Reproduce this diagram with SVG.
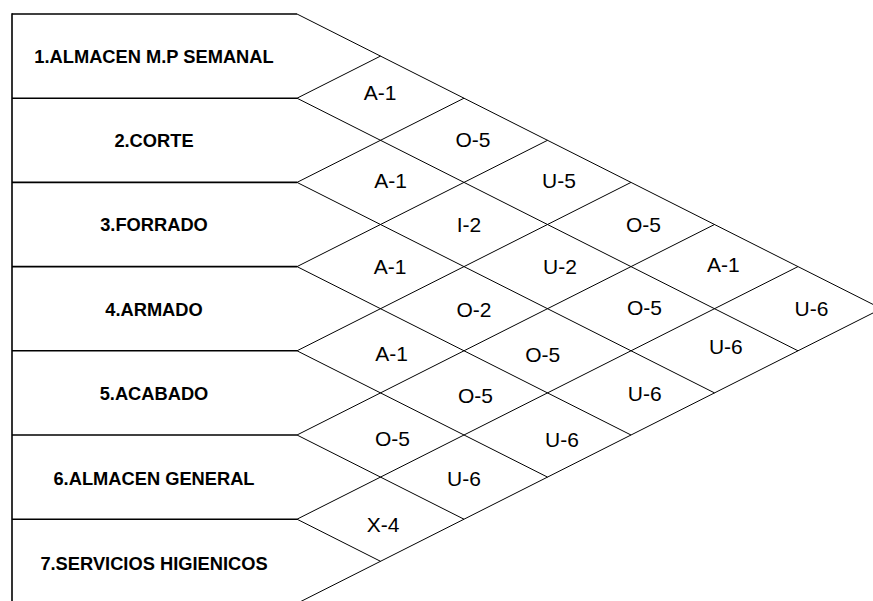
<svg xmlns="http://www.w3.org/2000/svg" width="873" height="601" viewBox="0 0 873 601">
  <style>
    .bg { fill: #ffffff; }
    .rule { stroke: #000000; stroke-width: 1.6; fill: none; }
    .diag { stroke: #000000; stroke-width: 1; fill: none; }
    .dept { font-family: "Liberation Sans", Arial, sans-serif; font-weight: bold; font-size: 18.3px; fill: #000000; text-anchor: middle; }
    .rel { font-family: "Liberation Sans", Arial, sans-serif; font-size: 21px; fill: #000000; text-anchor: middle; }
  </style>
  <rect class="bg" x="0" y="0" width="873" height="601"/>

  <!-- department column: left edge and row separators -->
  <g id="dept-frame">
    <line class="rule" x1="12" y1="13.2" x2="12" y2="601"/>
    <line class="rule" x1="12" y1="14" x2="297" y2="14"/>
    <line class="rule" x1="12" y1="98.2" x2="297" y2="98.2"/>
    <line class="rule" x1="12" y1="182.4" x2="297" y2="182.4"/>
    <line class="rule" x1="12" y1="266.6" x2="297" y2="266.6"/>
    <line class="rule" x1="12" y1="350.8" x2="297" y2="350.8"/>
    <line class="rule" x1="12" y1="435" x2="297" y2="435"/>
    <line class="rule" x1="12" y1="519.2" x2="297" y2="519.2"/>
  </g>

  <!-- departments -->
  <g id="dept-1"><text class="dept" x="154" y="63.2">1.ALMACEN M.P SEMANAL</text></g>
  <g id="dept-2"><text class="dept" x="154" y="147">2.CORTE</text></g>
  <g id="dept-3"><text class="dept" x="154" y="231.3">3.FORRADO</text></g>
  <g id="dept-4"><text class="dept" x="154" y="315.5">4.ARMADO</text></g>
  <g id="dept-5"><text class="dept" x="154" y="399.6">5.ACABADO</text></g>
  <g id="dept-6"><text class="dept" x="154" y="484.5">6.ALMACEN GENERAL</text></g>
  <g id="dept-7"><text class="dept" x="154" y="569.5">7.SERVICIOS HIGIENICOS</text></g>

  <!-- relationship lattice -->
  <g id="connectors">
    <line class="diag" x1="297" y1="14" x2="881.5" y2="308.7"/>
    <line class="diag" x1="297" y1="603.4" x2="881.5" y2="308.7"/>
    <!-- down-right diagonals -->
    <line class="diag" x1="297" y1="98.2" x2="798" y2="350.8"/>
    <line class="diag" x1="297" y1="182.4" x2="714.5" y2="392.9"/>
    <line class="diag" x1="297" y1="266.6" x2="631" y2="435"/>
    <line class="diag" x1="297" y1="350.8" x2="547.5" y2="477.1"/>
    <line class="diag" x1="297" y1="435" x2="464" y2="519.2"/>
    <line class="diag" x1="297" y1="519.2" x2="380.5" y2="561.3"/>
    <!-- up-right diagonals -->
    <line class="diag" x1="297" y1="98.2" x2="380.5" y2="56.1"/>
    <line class="diag" x1="297" y1="182.4" x2="464" y2="98.2"/>
    <line class="diag" x1="297" y1="266.6" x2="547.5" y2="140.3"/>
    <line class="diag" x1="297" y1="350.8" x2="631" y2="182.4"/>
    <line class="diag" x1="297" y1="435" x2="714.5" y2="224.5"/>
    <line class="diag" x1="297" y1="519.2" x2="798" y2="266.6"/>
  </g>

  <!-- relationship ratings -->
  <g id="rel-1-2"><text class="rel" x="380" y="100">A-1</text></g>
  <g id="rel-1-3"><text class="rel" x="473" y="146.5">O-5</text></g>
  <g id="rel-2-3"><text class="rel" x="390.5" y="188">A-1</text></g>
  <g id="rel-1-4"><text class="rel" x="559" y="188">U-5</text></g>
  <g id="rel-2-4"><text class="rel" x="469" y="232">I-2</text></g>
  <g id="rel-1-5"><text class="rel" x="643.5" y="231.5">O-5</text></g>
  <g id="rel-3-4"><text class="rel" x="390" y="274">A-1</text></g>
  <g id="rel-2-5"><text class="rel" x="560" y="274">U-2</text></g>
  <g id="rel-1-6"><text class="rel" x="723.3" y="271.7">A-1</text></g>
  <g id="rel-3-5"><text class="rel" x="474" y="316.5">O-2</text></g>
  <g id="rel-2-6"><text class="rel" x="644.5" y="315">O-5</text></g>
  <g id="rel-1-7"><text class="rel" x="811.5" y="315.7">U-6</text></g>
  <g id="rel-4-5"><text class="rel" x="391.7" y="361">A-1</text></g>
  <g id="rel-3-6"><text class="rel" x="542.8" y="361.5">O-5</text></g>
  <g id="rel-2-7"><text class="rel" x="725.8" y="354">U-6</text></g>
  <g id="rel-4-6"><text class="rel" x="475.5" y="403.3">O-5</text></g>
  <g id="rel-3-7"><text class="rel" x="644.7" y="401">U-6</text></g>
  <g id="rel-5-6"><text class="rel" x="392.5" y="445.5">O-5</text></g>
  <g id="rel-4-7"><text class="rel" x="562" y="446.7">U-6</text></g>
  <g id="rel-5-7"><text class="rel" x="464" y="486">U-6</text></g>
  <g id="rel-6-7"><text class="rel" x="383" y="532.3">X-4</text></g>
</svg>
